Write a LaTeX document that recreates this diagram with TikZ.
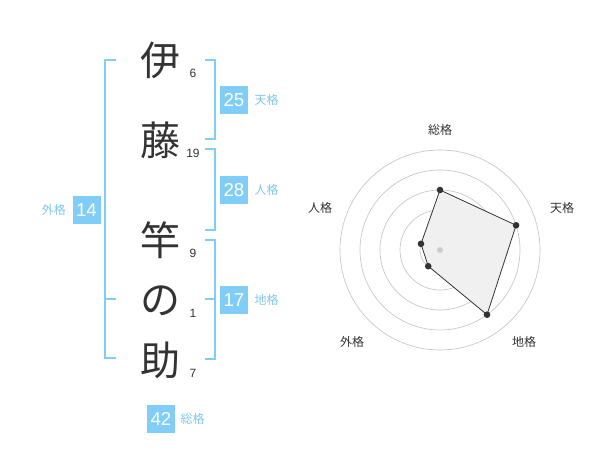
\documentclass[tikz,border=0pt]{standalone}
\usepackage{fontspec}
\setmainfont{Noto Sans CJK JP}
\newfontfamily\numfont{Liberation Sans}
\usetikzlibrary{positioning}
\definecolor{kakublue}{RGB}{128,205,248}
\definecolor{labelblue}{RGB}{128,198,238}
\definecolor{inkgray}{RGB}{51,51,51}

\begin{document}
\begin{tikzpicture}[x=0.75pt,y=-0.75pt,
  kanji/.style={inner sep=0pt, text=inkgray, font=\fontsize{30}{30}\selectfont},
  strokes/.style={inner sep=0pt, text=inkgray, font=\numfont\fontsize{9}{9}\selectfont},
  kakubox/.style={fill=kakublue, text=white, minimum size=21pt, inner sep=0pt, font=\numfont\fontsize{14}{14}\selectfont},
  kakulabel/.style={inner sep=0pt, text=labelblue, font=\fontsize{9}{9}\selectfont},
  bracket/.style={draw=kakublue, line width=1.5pt},
  ring/.style={draw=gray!45, line width=0.5pt},
  axislabel/.style={inner sep=0pt, text=inkgray, font=\fontsize{9}{9}\selectfont}]
\useasboundingbox (0,0) rectangle (600,470);
% name and strokes
\path (160,60) node (c1)[kanji] {伊}
(160,140) node (c2)[kanji] {藤}
(160,240) node (c3)[kanji] {竿}
(160,301) node (c4)[kanji] {の}
(160,360) node (c5)[kanji] {助}
(193,73) node (s1)[strokes] {6}
(193,153) node (s2)[strokes] {19}
(193,253) node (s3)[strokes] {9}
(193,313) node (s4)[strokes] {1}
(193,373) node (s5)[strokes] {7};
% brackets
\draw[bracket] (116,60) -- (105,60) -- (105,358) -- (116,358);
\draw[bracket] (105,299) -- (116,299);
\draw[bracket] (205,60) -- (215,60) -- (215,139) -- (205,139);
\draw[bracket] (205,149) -- (215,149) -- (215,230) -- (205,230);
\draw[bracket] (205,240) -- (215,240) -- (215,359) -- (205,359);
\draw[bracket] (205,299) -- (215,299);
% scores
\path (234,100) node (ten)[kakubox] {25}
(234,190) node (jin)[kakubox] {28}
(234,300) node (chi)[kakubox] {17}
(86.5,210) node (gai)[kakubox] {14}
(161,419) node (sou)[kakubox] {42};
\node[kakulabel, right=4.5pt of ten] (tenl) {天格};
\node[kakulabel, right=4.5pt of jin] (jinl) {人格};
\node[kakulabel, right=4.5pt of chi] (chil) {地格};
\node[kakulabel, left=4.5pt of gai] (gail) {外格};
\node[kakulabel, right=3.75pt of sou] (soul) {総格};
% radar
\coordinate (c) at (440,250);
\foreach \r in {20,40,...,100} \draw[ring] (c) circle[radius=\r];
\path (c) +(-90:60) coordinate (psou)
(c) +(-18:80) coordinate (pten)
(c) +(54:80) coordinate (pchi)
(c) +(126:20) coordinate (pgai)
(c) +(198:20) coordinate (pjin);
\draw[fill=black!6, draw=inkgray, line width=0.6pt] (psou) -- (pten) -- (pchi) -- (pgai) -- (pjin) -- cycle;
\fill[gray!40] (c) circle[radius=3];
\foreach \p in {psou,pten,pchi,pgai,pjin} \fill[inkgray] (\p) circle[radius=3.3];
\path (440,130) node (asou)[axislabel] {総格}
(562,208) node (aten)[axislabel] {天格}
(320,208) node (ajin)[axislabel] {人格}
(524,342) node (achi)[axislabel] {地格}
(352,342) node (agai)[axislabel] {外格};
\end{tikzpicture}
\end{document}
